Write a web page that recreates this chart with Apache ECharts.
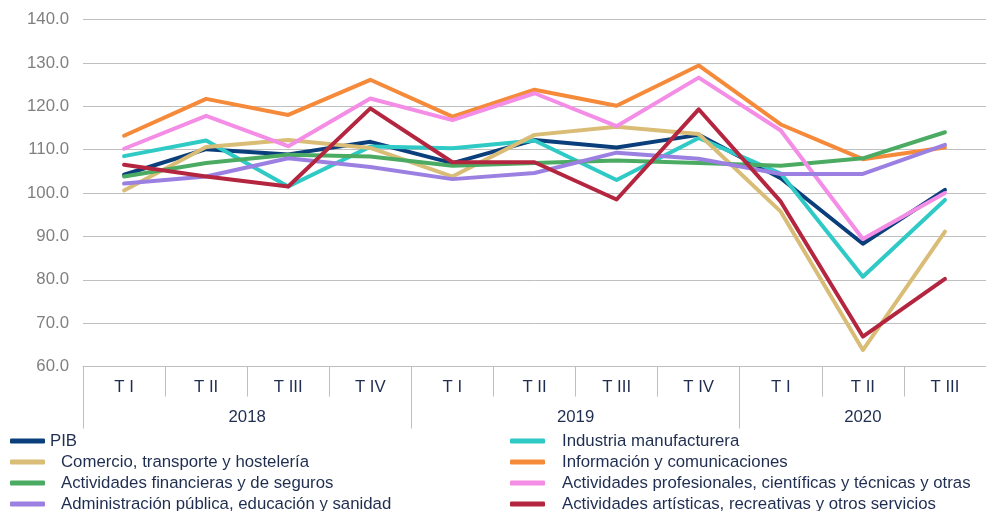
<!DOCTYPE html>
<html>
<head>
<meta charset="utf-8">
<script src="https://cdn.jsdelivr.net/npm/echarts@6/dist/echarts.min.js"></script>
<style>html,body{margin:0;padding:0;background:#fff}#c{width:986px;height:511px}</style>
</head>
<body>
<div id="c"></div>
<script>
const quarters = ['T I','T II','T III','T IV','T I','T II','T III','T IV','T I','T II','T III'];
const years = ['2018','2019','2020'];
const quartersPerYear = [4,4,3];

const pib           = [104.2,110.1,108.9,111.8,106.9,112.2,110.5,113.4,103.4,88.3,100.7];
const industria     = [108.5,112.1,101.5,110.7,110.3,112.1,103.0,112.7,104.5,80.7,98.4];
const comercio      = [100.6,110.6,112.2,110.4,103.8,113.4,115.3,113.6,95.7,63.8,91.1];
const informacion   = [113.2,121.7,118.0,126.1,117.6,123.8,120.1,129.4,115.8,107.8,110.5];
const financieras   = [103.8,106.9,108.8,108.4,106.3,106.9,107.5,106.9,106.3,108.0,114.0];
const profesionales = [110.2,117.8,110.8,121.8,116.8,123.0,115.4,126.6,114.4,89.4,100.0];
const administracion= [102.2,103.8,108.0,106.0,103.2,104.6,109.3,107.9,104.4,104.4,111.1];
const artisticas    = [106.5,103.8,101.5,119.5,107.1,107.1,98.5,119.3,98.0,66.9,80.2];

const seriesDefs = [
  {name:'PIB', data:pib, color:'#0b3f7c'},
  {name:'Industria manufacturera', data:industria, color:'#2fcac6'},
  {name:'Comercio, transporte y hostelería', data:comercio, color:'#d9bc76'},
  {name:'Información y comunicaciones', data:informacion, color:'#f58a3b'},
  {name:'Actividades financieras y de seguros', data:financieras, color:'#4cab62'},
  {name:'Actividades profesionales, científicas y técnicas y otras', data:profesionales, color:'#f48de6'},
  {name:'Administración pública, educación y sanidad', data:administracion, color:'#9b80e2'},
  {name:'Actividades artísticas, recreativas y otros servicios', data:artisticas, color:'#b4263f'}
];

// Year axis: 2*N+1 half-quarter points
const total = quarters.length;
const yearAxisData = [];
for (let i = 0; i <= 2*total; i++) yearAxisData.push('');
const yearTicks = [0];
const yearLabelIdx = [];
let acc = 0;
quartersPerYear.forEach((n, k) => {
  const center = acc*2 + n;
  yearAxisData[center] = years[k];
  yearLabelIdx.push(center);
  acc += n;
  yearTicks.push(acc*2);
});

const FONT = 'Liberation Sans, Arial, sans-serif';
const FS = 16.8;
const navy = '#1f2d50';

// one legend per entry, two columns x four rows
const legends = seriesDefs.map((s, i) => {
  const col = i % 2, row = Math.floor(i / 2);
  const pad = (i === 0) ? 0 : (col === 0 ? 11 : 12);
  return {
    orient:'horizontal', left: col === 0 ? 10 : 510, top: 432 + row*21,
    itemWidth:35, itemHeight:5, icon:'roundRect', padding:0,
    textStyle:{fontSize:FS, color:navy, fontFamily:FONT, lineHeight:18, padding:[0,0,0,pad]},
    data:[s.name]
  };
});

const chart = echarts.init(document.getElementById('c'));
chart.setOption({
  animation:false,
  textStyle:{fontFamily:FONT},
  grid:{left:83, right:-3, top:19.5, bottom:144.5, containLabel:false},
  legend:legends,
  xAxis:[
    {type:'category', data:quarters, position:'bottom', boundaryGap:true,
     axisLine:{show:true, lineStyle:{color:'#bfbfbf', width:1}},
     axisTick:{show:true, length:30, lineStyle:{color:'#bfbfbf'}},
     axisLabel:{color:navy, fontSize:FS, margin:12, fontFamily:FONT},
     splitLine:{show:false}},
    {type:'category', data:yearAxisData, position:'bottom', boundaryGap:false,
     axisLine:{show:false},
     axisTick:{show:true, length:62, lineStyle:{color:'#bfbfbf'}, interval:(i)=>yearTicks.includes(i)},
     axisLabel:{color:navy, fontSize:FS, margin:42, fontFamily:FONT, interval:(i)=>yearLabelIdx.includes(i)},
     splitLine:{show:false}}
  ],
  yAxis:{type:'value', min:60, max:140, interval:10,
    axisLine:{show:false}, axisTick:{show:false},
    axisLabel:{color:'#7f7f7f', fontSize:FS, margin:14, fontFamily:FONT, formatter:v=>v.toFixed(1)},
    splitLine:{lineStyle:{color:'#bfbfbf', width:1}}},
  series:seriesDefs.map(s=>({
    name:s.name, type:'line', xAxisIndex:0, data:s.data,
    symbol:'none', showSymbol:false, color:s.color,
    lineStyle:{width:4, color:s.color, join:'round', cap:'round'}
  }))
});
</script>
</body>
</html>
